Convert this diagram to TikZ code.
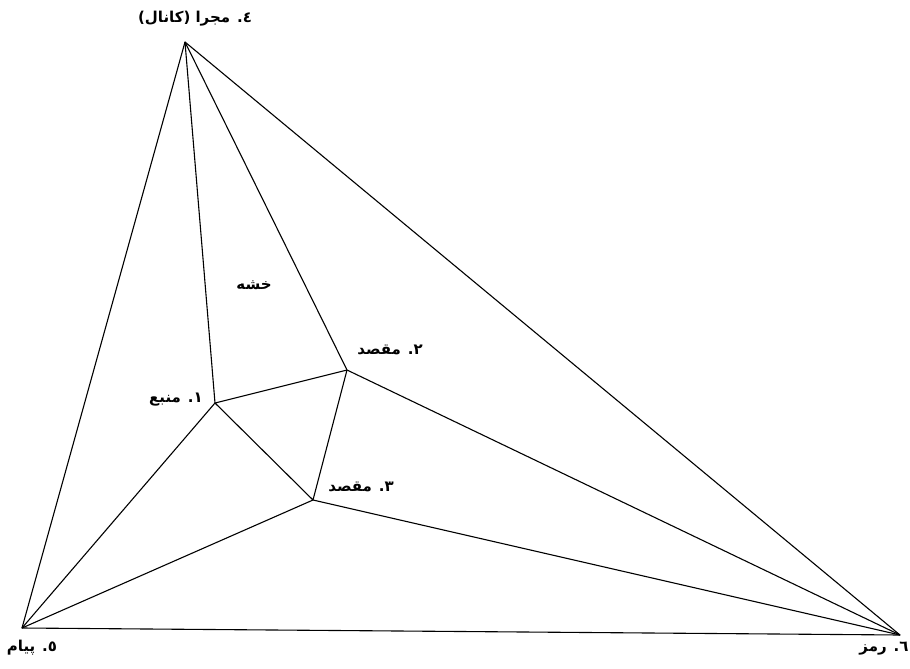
\documentclass[tikz,border=0pt]{standalone}
\usepackage{fontspec}
\newfontfamily\arabicfont[Script=Arabic]{DejaVu Sans}
\TeXXeTstate=1
\begin{document}
\begin{tikzpicture}[x=1pt,y=-1pt,
  edge/.style={line width=1.1pt,line join=round},
  lbl/.style={font=\arabicfont\bfseries\fontsize{15}{17}\selectfont,inner sep=0pt}]
\useasboundingbox (0,0) rectangle (910,669);
\coordinate (A) at (185,42);
\coordinate (B) at (22,628);
\coordinate (C) at (900,635);
\coordinate (S) at (215,403);
\coordinate (D2) at (347,370);
\coordinate (D3) at (313,500);
\draw[edge] (A) -- (B) -- (C) -- cycle;
\draw[edge] (A) -- (S);
\draw[edge] (A) -- (D2);
\draw[edge] (S) -- (D2) -- (D3) -- cycle;
\draw[edge] (B) -- (S);
\draw[edge] (B) -- (D3);
\draw[edge] (C) -- (D2);
\draw[edge] (C) -- (D3);
\node[lbl] (tA) at (195,19) {\beginR ٤. مجرا (کانال)\endR};
\node[lbl] (tN) at (254,285) {\beginR خشه\endR};
\node[lbl] (t2) at (390,350) {\beginR ٢. مقصد\endR};
\node[lbl] (t1) at (176,400) {\beginR ١. منبع\endR};
\node[lbl] (t3) at (361,487) {\beginR ٣. مقصد\endR};
\node[lbl] (t5) at (32,648) {\beginR ٥. پیام\endR};
\node[lbl] (t6) at (884,649) {\beginR ٦. رمز\endR};
\end{tikzpicture}
\end{document}
